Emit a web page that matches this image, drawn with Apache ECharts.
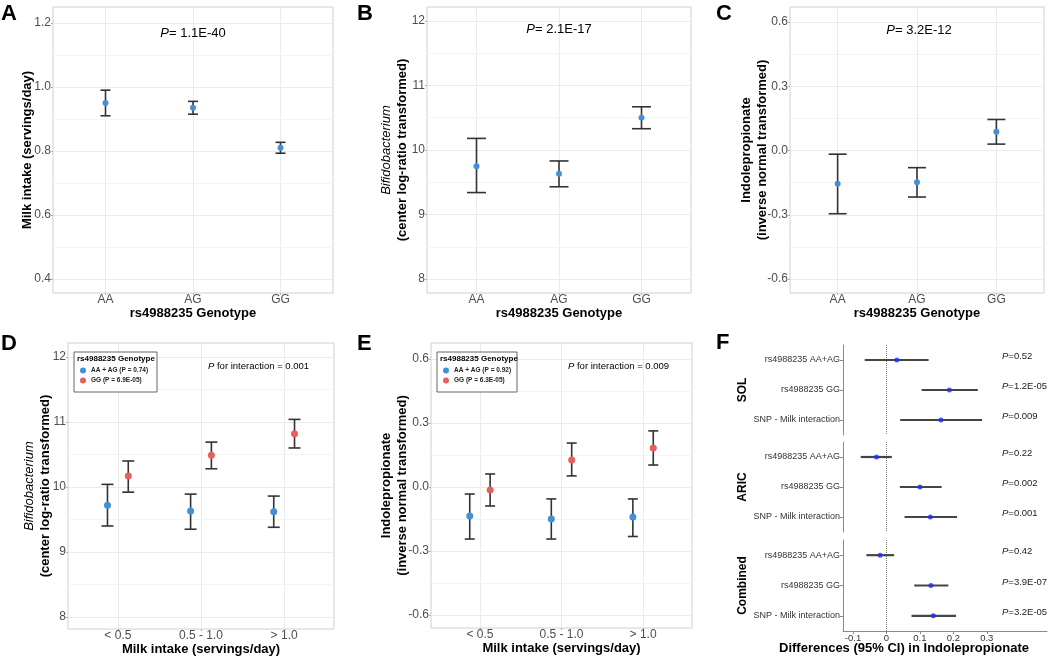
<!DOCTYPE html>
<html><head><meta charset="utf-8">
<script src="https://cdn.jsdelivr.net/npm/echarts@6/dist/echarts.min.js"></script>
<style>html,body{margin:0;padding:0;background:#fff}#c{width:1050px;height:657px}</style>
</head><body><div id="c"></div>
<script>
// ---------- DATA ----------
const genotypes = ['AA', 'AG', 'GG'];
const milkMean = [0.95, 0.935, 0.81];
const milkLo   = [0.91, 0.915, 0.793];
const milkHi   = [0.99, 0.955, 0.827];
const bifMean = [9.75, 9.63, 10.5];
const bifLo   = [9.34, 9.43, 10.33];
const bifHi   = [10.18, 9.83, 10.67];
const ipaMean = [-0.155, -0.148, 0.088];
const ipaLo   = [-0.295, -0.217, 0.03];
const ipaHi   = [-0.017, -0.08, 0.145];
const topPvals = ['1.1E-40', '2.1E-17', '3.2E-12'];

const milkGroups = ['< 0.5', '0.5 - 1.0', '> 1.0'];
const bifAAAGMean = [9.72, 9.63, 9.62];
const bifAAAGLo   = [9.40, 9.35, 9.38];
const bifAAAGHi   = [10.04, 9.89, 9.86];
const bifGGMean = [10.17, 10.49, 10.82];
const bifGGLo   = [9.92, 10.28, 10.60];
const bifGGHi   = [10.40, 10.69, 11.04];
const ipaAAAGMean = [-0.136, -0.150, -0.141];
const ipaAAAGLo   = [-0.244, -0.244, -0.232];
const ipaAAAGHi   = [-0.033, -0.056, -0.056];
const ipaGGMean = [-0.014, 0.127, 0.183];
const ipaGGLo   = [-0.089, 0.052, 0.103];
const ipaGGHi   = [0.061, 0.206, 0.263];
const legendD = ['AA + AG (P = 0.74)', 'GG (P = 6.9E-05)'];
const legendE = ['AA + AG (P = 0.92)', 'GG (P = 6.3E-05)'];
const interactionP = ['0.001', '0.009'];

const forestRows = ['rs4988235 AA+AG', 'rs4988235 GG', 'SNP - Milk interaction'];
const cohorts = ['SOL', 'ARIC', 'Combined'];
const solEst = [0.031, 0.188, 0.163];
const solLo  = [-0.065, 0.105, 0.041];
const solHi  = [0.126, 0.273, 0.286];
const solP   = ['0.52', '1.2E-05', '0.009'];
const aricEst = [-0.030, 0.100, 0.131];
const aricLo  = [-0.077, 0.040, 0.054];
const aricHi  = [0.016, 0.165, 0.211];
const aricP   = ['0.22', '0.002', '0.001'];
const combEst = [-0.019, 0.133, 0.140];
const combLo  = [-0.060, 0.083, 0.075];
const combHi  = [0.023, 0.185, 0.208];
const combP   = ['0.42', '3.9E-07', '3.2E-05'];

const milkTicks = [0.4, 0.6, 0.8, 1.0, 1.2];
const milkMinor = [0.5, 0.7, 0.9, 1.1];
const bifTicks = [8, 9, 10, 11, 12];
const bifMinor = [8.5, 9.5, 10.5, 11.5];
const ipaTicks = [-0.6, -0.3, 0.0, 0.3, 0.6];
const ipaMinor = [-0.45, -0.15, 0.15, 0.45];
const diffTicks = [-0.1, 0, 0.1, 0.2, 0.3];

// ---------- STYLE ----------
const FONT = "'Liberation Sans', Arial, Helvetica, sans-serif";
const BLUE = '#4390d8';
const RED = '#e5605e';
const FBLUE = '#1f2bff';
const DODGE = 0.125;

const chart = echarts.init(document.getElementById('c'), null, {renderer: 'canvas'});

const gridBoxes = [
  {left: 53, top: 7, width: 280, height: 286},
  {left: 427, top: 7, width: 264, height: 286},
  {left: 790, top: 7, width: 254, height: 286},
  {left: 68, top: 343, width: 266, height: 286},
  {left: 431, top: 343, width: 261, height: 285},
  {left: 843, top: 345, width: 204, height: 90},
  {left: 843, top: 442, width: 204, height: 90},
  {left: 843, top: 540, width: 204, height: 91}
];
const grids = gridBoxes.map((g, i) => Object.assign({
  show: i < 5, borderColor: '#d0d0d0', borderWidth: 1,
  backgroundColor: 'transparent', containLabel: false, outerBoundsMode: 'none'
}, g));

const pos = [1, 2, 3];
function catX(gi, cats, name) {
  return {
    gridIndex: gi, type: 'value', min: 0.4, max: 3.6,
    axisLine: {show: false, onZero: false},
    axisTick: {show: true, customValues: pos, length: 2, lineStyle: {color: '#b0b0b0'}},
    axisLabel: {customValues: pos, formatter: v => cats[Math.round(v) - 1], fontSize: 12,
      color: '#4d4d4d', margin: 1, fontFamily: FONT},
    splitLine: {show: true, lineStyle: {color: '#ebebeb', width: 1}},
    name: name, nameLocation: 'middle', nameGap: 14, nameMoveOverlap: false,
    nameTextStyle: {fontSize: 13, fontWeight: 'bold', color: '#000', fontFamily: FONT}
  };
}
const nameRich = {
  it: {fontStyle: 'italic', fontWeight: 'normal', fontSize: 13, fontFamily: FONT, color: '#000', lineHeight: 16},
  b: {fontWeight: 'bold', fontSize: 13, fontFamily: FONT, color: '#000', lineHeight: 16}
};
function valY(gi, min, max, ticks, fmt, name, gap) {
  return {
    gridIndex: gi, type: 'value', min: min, max: max,
    axisLine: {show: false, onZero: false},
    axisTick: {show: true, customValues: ticks, length: 2, lineStyle: {color: '#b0b0b0'}},
    axisLabel: {customValues: ticks, formatter: fmt, fontSize: 12, color: '#4d4d4d', margin: 2, fontFamily: FONT},
    splitLine: {show: true, lineStyle: {color: '#ebebeb', width: 1}},
    name: name, nameLocation: 'middle', nameRotate: 90, nameGap: gap, nameMoveOverlap: false,
    nameTextStyle: {fontSize: 13, fontFamily: FONT, color: '#000', lineHeight: 16, rich: nameRich}
  };
}
const f1 = v => v.toFixed(1);
const f0 = v => String(Math.round(v));

const xAxes = [
  catX(0, genotypes, 'rs4988235 Genotype'),
  catX(1, genotypes, 'rs4988235 Genotype'),
  catX(2, genotypes, 'rs4988235 Genotype'),
  catX(3, milkGroups, 'Milk intake (servings/day)'),
  catX(4, milkGroups, 'Milk intake (servings/day)')
];
const yAxes = [
  valY(0, 0.356, 1.25, milkTicks, f1, '{b|Milk intake (servings/day)}', 18),
  valY(1, 7.783, 12.217, bifTicks, f0, '{it|Bifidobacterium}\n{b|(center log-ratio transformed)}', 17),
  valY(2, -0.665, 0.67, ipaTicks, f1, '{b|Indolepropionate}\n{b|(inverse normal transformed)}', 20),
  valY(3, 7.815, 12.215, bifTicks, f0, '{it|Bifidobacterium}\n{b|(center log-ratio transformed)}', 15),
  valY(4, -0.661, 0.675, ipaTicks, f1, '{b|Indolepropionate}\n{b|(inverse normal transformed)}', 21)
];

// Forest plot axes
for (let k = 0; k < 3; k++) {
  const gi = 5 + k;
  const bottom = k === 2;
  xAxes.push({
    gridIndex: gi, type: 'value', min: -0.13, max: 0.48,
    axisLine: {show: bottom, onZero: false, lineStyle: {color: '#8a8a8a', width: 1}},
    axisTick: {show: bottom, customValues: diffTicks, length: 3, lineStyle: {color: '#8a8a8a'}},
    axisLabel: {show: bottom, customValues: diffTicks, formatter: v => (Math.abs(v) < 1e-9 ? '0' : v.toFixed(1)),
      fontSize: 9.5, color: '#333', margin: 2, fontFamily: FONT},
    splitLine: {show: false}
  });
}
const pLists = [solP, aricP, combP];
for (let k = 0; k < 3; k++) {
  yAxes.push({
    gridIndex: 5 + k, type: 'category', data: forestRows, inverse: true,
    axisLine: {show: true, onZero: false, lineStyle: {color: '#8a8a8a', width: 1}},
    axisTick: {show: true, alignWithLabel: true, length: 3, lineStyle: {color: '#8a8a8a'}},
    axisLabel: {fontSize: 9, color: '#333', margin: 3, fontFamily: FONT},
    splitLine: {show: false},
    name: cohorts[k], nameLocation: 'middle', nameRotate: 90, nameGap: 94, nameMoveOverlap: false,
    nameTextStyle: {fontSize: 12, fontWeight: 'bold', color: '#000', fontFamily: FONT}
  });
}
for (let k = 0; k < 3; k++) {
  yAxes.push({
    gridIndex: 5 + k, type: 'category', data: pLists[k], inverse: true, position: 'right',
    axisLine: {show: false, onZero: false}, axisTick: {show: false}, splitLine: {show: false},
    axisLabel: {inside: true, align: 'left', margin: 45, fontSize: 9.5, color: '#222', fontFamily: FONT,
      padding: [0, 0, 7, 0],
      formatter: v => '{i|P}=' + v,
      rich: {i: {fontStyle: 'italic', fontSize: 9.5, color: '#222', fontFamily: FONT}}}
  });
}

// ---------- SERIES ----------
function vBar(cap) {
  return function (params, api) {
    const x = api.value(0), lo = api.value(1), hi = api.value(2);
    const t = api.coord([x, hi]), b = api.coord([x, lo]);
    const st = {stroke: '#333', lineWidth: 1.6};
    return {type: 'group', children: [
      {type: 'line', shape: {x1: t[0], y1: t[1], x2: b[0], y2: b[1]}, style: st},
      {type: 'line', shape: {x1: t[0] - cap / 2, y1: t[1], x2: t[0] + cap / 2, y2: t[1]}, style: st},
      {type: 'line', shape: {x1: b[0] - cap / 2, y1: b[1], x2: b[0] + cap / 2, y2: b[1]}, style: st}
    ]};
  };
}
function errSeries(gi, xs, lo, hi, cap) {
  return {type: 'custom', xAxisIndex: gi, yAxisIndex: gi, silent: true, z: 2, clip: false,
    renderItem: vBar(cap), encode: {x: 0, y: [1, 2]},
    data: xs.map((x, i) => [x, lo[i], hi[i]])};
}
function ptSeries(gi, name, xs, mean, color, size) {
  return {type: 'scatter', name: name, xAxisIndex: gi, yAxisIndex: gi, silent: true, z: 3,
    symbolSize: size, itemStyle: {color: color, opacity: 1},
    data: xs.map((x, i) => [x, mean[i]])};
}
function minorSeries(gi, vals) {
  return {type: 'line', xAxisIndex: gi, yAxisIndex: gi, data: [], silent: true, z: 0,
    markLine: {silent: true, z: 0, symbol: ['none', 'none'], label: {show: false}, animation: false,
      lineStyle: {type: 'solid', color: '#f4f4f4', width: 1}, data: vals.map(v => ({yAxis: v}))}};
}
const series = [];
const minors = [milkMinor, bifMinor, ipaMinor, bifMinor, ipaMinor];
minors.forEach((m, gi) => series.push(minorSeries(gi, m)));
const topSets = [[milkMean, milkLo, milkHi, 10], [bifMean, bifLo, bifHi, 19], [ipaMean, ipaLo, ipaHi, 18]];
topSets.forEach((s, gi) => {
  series.push(errSeries(gi, pos, s[1], s[2], s[3]));
  series.push(ptSeries(gi, 'pt' + gi, pos, s[0], BLUE, 6));
});
const xsL = pos.map(p => p - DODGE), xsR = pos.map(p => p + DODGE);
series.push(errSeries(3, xsL, bifAAAGLo, bifAAAGHi, 12));
series.push(errSeries(3, xsR, bifGGLo, bifGGHi, 12));
series.push(ptSeries(3, legendD[0], xsL, bifAAAGMean, BLUE, 7));
series.push(ptSeries(3, legendD[1], xsR, bifGGMean, RED, 7));
series.push(errSeries(4, xsL, ipaAAAGLo, ipaAAAGHi, 10));
series.push(errSeries(4, xsR, ipaGGLo, ipaGGHi, 10));
series.push(ptSeries(4, legendE[0], xsL, ipaAAAGMean, BLUE, 7));
series.push(ptSeries(4, legendE[1], xsR, ipaGGMean, RED, 7));

const forest = [[solEst, solLo, solHi], [aricEst, aricLo, aricHi], [combEst, combLo, combHi]];
forest.forEach((f, k) => {
  const gi = 5 + k;
  series.push({type: 'custom', xAxisIndex: gi, yAxisIndex: gi, silent: true, z: 2, clip: false,
    encode: {x: [0, 1], y: 2},
    data: forestRows.map((r, i) => [f[1][i], f[2][i], r]),
    renderItem: function (params, api) {
      const a = api.coord([api.value(0), api.value(2)]);
      const b = api.coord([api.value(1), api.value(2)]);
      return {type: 'line', shape: {x1: a[0], y1: a[1], x2: b[0], y2: b[1]},
        style: {stroke: '#444', lineWidth: 2.2}};
    }});
  series.push({type: 'scatter', xAxisIndex: gi, yAxisIndex: gi, silent: true, z: 3,
    symbolSize: 5, itemStyle: {color: FBLUE},
    data: forestRows.map((r, i) => [f[0][i], r]),
    markLine: {silent: true, z: 1, symbol: ['none', 'none'], label: {show: false},
      lineStyle: {type: 'dotted', color: '#7a7a7a', width: 1}, data: [{xAxis: 0}]}});
});

// ---------- ANNOTATIONS ----------
function txt(x, y, text, opt) {
  return {type: 'text', z: 10, x: x, y: y, style: Object.assign({
    text: text, fontFamily: FONT, fontSize: 13, fill: '#000', align: 'left', verticalAlign: 'top'}, opt || {})};
}
const pRich = (size) => ({i: {fontStyle: 'italic', fontSize: size, fontFamily: FONT, fill: '#000', color: '#000'}});
const graphics = [
  txt(1, 3, 'A', {fontSize: 22, fontWeight: 'bold'}),
  txt(357, 3, 'B', {fontSize: 22, fontWeight: 'bold'}),
  txt(716, 3, 'C', {fontSize: 22, fontWeight: 'bold'}),
  txt(1, 333, 'D', {fontSize: 22, fontWeight: 'bold'}),
  txt(357, 333, 'E', {fontSize: 22, fontWeight: 'bold'}),
  txt(716, 332, 'F', {fontSize: 22, fontWeight: 'bold'}),
  txt(193, 33, '{i|P}= ' + topPvals[0], {align: 'center', verticalAlign: 'middle', rich: pRich(13)}),
  txt(559, 29, '{i|P}= ' + topPvals[1], {align: 'center', verticalAlign: 'middle', rich: pRich(13)}),
  txt(919, 30, '{i|P}= ' + topPvals[2], {align: 'center', verticalAlign: 'middle', rich: pRich(13)}),
  txt(208, 366, '{i|P} for interaction = ' + interactionP[0], {fontSize: 9.5, verticalAlign: 'middle', rich: pRich(9.5)}),
  txt(568, 366, '{i|P} for interaction = ' + interactionP[1], {fontSize: 9.5, verticalAlign: 'middle', rich: pRich(9.5)}),
  {type: 'rect', z: 4, shape: {x: 74, y: 352, width: 83, height: 40}, style: {fill: '#fff', stroke: '#666', lineWidth: 1}},
  {type: 'rect', z: 4, shape: {x: 437, y: 352, width: 80, height: 40}, style: {fill: '#fff', stroke: '#666', lineWidth: 1}},
  txt(77, 355, 'rs4988235 Genotype', {fontSize: 8, fontWeight: 'bold'}),
  txt(440, 355, 'rs4988235 Genotype', {fontSize: 8, fontWeight: 'bold'}),
  txt(904, 648, 'Differences (95% CI) in Indolepropionate', {fontWeight: 'bold', align: 'center', verticalAlign: 'middle'})
];

function legendAt(left, names) {
  return {data: names, left: left, top: 367, orient: 'vertical', itemWidth: 6, itemHeight: 6,
    itemGap: 3, icon: 'circle', padding: 0, selectedMode: false, z: 6,
    textStyle: {fontSize: 6.5, fontWeight: 'bold', color: '#222', fontFamily: FONT}};
}

chart.setOption({
  animation: false,
  backgroundColor: '#fff',
  textStyle: {fontFamily: FONT},
  grid: grids,
  xAxis: xAxes,
  yAxis: yAxes,
  legend: [legendAt(80, legendD), legendAt(443, legendE)],
  graphic: graphics,
  series: series
});
</script>
</body></html>
